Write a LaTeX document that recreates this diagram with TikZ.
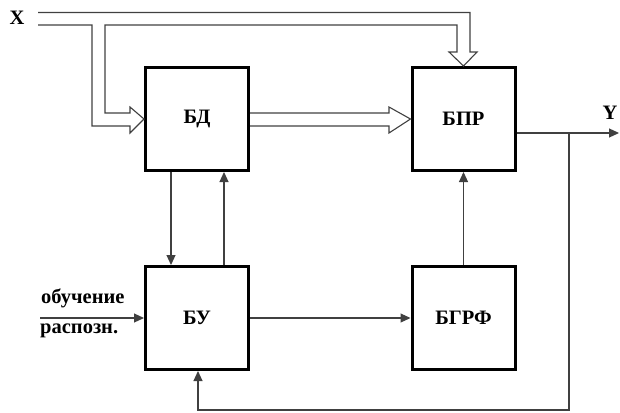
\documentclass[tikz,border=0pt]{standalone}
\usepackage{fontspec}
\setmainfont{Liberation Serif}
\usetikzlibrary{arrows.meta,calc}
\begin{document}
\begin{tikzpicture}[x=1pt,y=-1pt,
  blk/.style={draw=black,line width=3pt,minimum width=103pt,minimum height=103pt,inner sep=0pt,font=\fontsize{20.5}{20.5}\selectfont\bfseries},
  lbl/.style={inner sep=0pt,font=\fontsize{20.5}{20.5}\selectfont\bfseries},
  conn/.style={draw=black!75,line width=1.1pt},
  arr/.style={conn,-{Triangle[length=10pt,width=9pt]}},
  hollow/.style={draw=black!75,line width=1.1pt,line join=miter}]
\useasboundingbox (0,0) rectangle (620,412);
\node[blk] (bd) at (197,119) {БД};
\node[blk] (bpr) at (463.5,119) {БПР};
\node[blk] (bu) at (197,318) {БУ};
\node[blk] (bgrf) at (463.5,318) {БГРФ};
\node[lbl] (x) at (17,18) {X};
\node[lbl] (y) at (610,113) {Y};
\node[lbl,anchor=west] (ob) at (41,298) {обучение};
\node[lbl,anchor=west] (ra) at (40,331) {распозн.};
% hollow double arrow X -> BPR (top) and X -> BD
\draw[hollow] (38,12.5) -- (470,12.5) -- (470,52) -- (477,52) -- (bpr.north) -- (449,52) -- (457,52) -- (457,25) -- (105,25) -- (105,113) -- (130,113) -- (130,107) -- (bd.west) -- (130,133) -- (130,126) -- (92,126) -- (92,25) -- (38,25);
% hollow double arrow BD -> BPR
\draw[hollow] (bd.east |- 0,113) -- (389,113) -- (389,107) -- (bpr.west) -- (389,133) -- (389,126) -- (bd.east |- 0,126);
% output Y
\coordinate (yo) at ($(bpr.east)+(0,14)$);
\coordinate (ye) at (619,133);
\coordinate (br) at (569,133);
\draw[arr] (yo) -- (ye);
\draw[conn,-{Triangle[length=10pt,width=9pt]}] (br) -- (569,410) -- (198,410) -- (bu.south -| 198,0);
% BD <-> BU
\draw[arr] ($(bd.south)+(-26,0)$) -- ($(bu.north)+(-26,0)$);
\draw[arr] ($(bu.north)+(27,0)$) -- ($(bd.south)+(27,0)$);
% input
\coordinate (in) at (40,318);
\draw[arr] (in) -- (bu.west);
% BU -> BGRF, BGRF -> BPR
\draw[arr] (bu.east) -- (bgrf.west);
\draw[arr] (bgrf.north) -- (bpr.south);
\end{tikzpicture}
\end{document}
